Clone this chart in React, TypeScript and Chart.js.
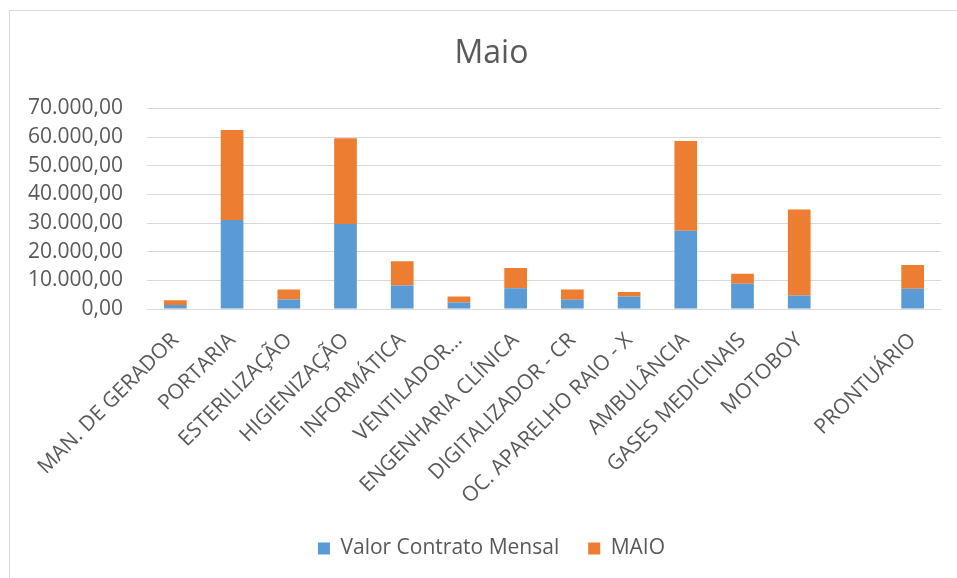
import React, { useEffect, useRef } from "react";
import { Chart, registerables } from "chart.js";

Chart.register(...registerables);

const categories = [
  "MAN. DE GERADOR",
  "PORTARIA",
  "ESTERILIZAÇÃO",
  "HIGIENIZAÇÃO",
  "INFORMÁTICA",
  "VENTILADOR…",
  "ENGENHARIA CLÍNICA",
  "DIGITALIZADOR - CR",
  "OC. APARELHO RAIO - X",
  "AMBULÂNCIA",
  "GASES MEDICINAIS",
  "MOTOBOY",
  "",
  "PRONTUÁRIO",
];

const valorContratoMensal = [1400, 31100, 3300, 29700, 8200, 2250, 7200, 3200, 4400, 27300, 8800, 4700, null, 7050];
const maio = [1650, 31400, 3500, 29900, 8500, 2100, 7100, 3600, 1500, 31300, 3500, 30000, null, 8300];

const yMin = 0;
const yMax = 70000;
const yStep = 10000;

const FONT = "'Open Sans', 'Liberation Sans', sans-serif";
const TEXT = "#595959";
const GRID = "#d9d9d9";

function fmtBR(v: number): string {
  const s = Math.round(v).toString().replace(/\B(?=(\d{3})+(?!\d))/g, ".");
  return s + ",00";
}

const recenter = {
  id: "recenter",
  afterLayout(chart: any) {
    const dx = 21;
    for (const b of [chart.titleBlock, chart.legend]) {
      if (b) {
        b.left += dx;
        b.right += dx;
      }
    }
  },
};

export default function App() {
  const ref = useRef<HTMLCanvasElement | null>(null);

  useEffect(() => {
    document.body.style.margin = "0";
    document.body.style.overflow = "hidden";
    if (!ref.current) return;
    const chart = new Chart(ref.current, {
      type: "bar",
      data: {
        labels: categories,
        datasets: [
          {
            label: "Valor Contrato Mensal",
            data: valorContratoMensal,
            backgroundColor: "#5B9BD5",
            barPercentage: 0.4,
            categoryPercentage: 1,
          },
          {
            label: "MAIO",
            data: maio,
            backgroundColor: "#ED7D31",
            barPercentage: 0.4,
            categoryPercentage: 1,
          },
        ],
      },
      plugins: [recenter],
      options: {
        animation: false,
        responsive: true,
        maintainAspectRatio: false,
        layout: { padding: { left: 0, right: 16, top: 0, bottom: 9 } },
        plugins: {
          title: {
            display: true,
            text: "Maio",
            color: TEXT,
            font: { family: FONT, size: 32, weight: "normal" },
            padding: { top: 35, bottom: 35 },
          },
          legend: {
            position: "bottom",
            labels: {
              color: TEXT,
              font: { family: FONT, size: 21 },
              boxWidth: 12,
              boxHeight: 12,
              padding: 29,
            },
          },
          tooltip: { enabled: false },
        },
        scales: {
          x: {
            stacked: true,
            grid: { display: false },
            border: { display: false },
            ticks: {
              color: TEXT,
              font: { family: FONT, size: 21 },
              minRotation: 45,
              maxRotation: 45,
              autoSkip: false,
              padding: 11,
            },
            afterFit: (scale: any) => {
              scale.height = 200;
            },
          },
          y: {
            stacked: true,
            min: yMin,
            max: yMax,
            grid: { color: GRID, lineWidth: 1, drawTicks: false },
            border: { display: false },
            ticks: {
              stepSize: yStep,
              autoSkip: false,
              color: TEXT,
              font: { family: FONT, size: 21 },
              padding: 24,
              callback: (v: any) => fmtBR(Number(v)),
            },
            afterFit: (scale: any) => {
              scale.width = 147;
            },
          },
        },
      },
    });
    return () => chart.destroy();
  }, []);

  return (
    <>
      <div
        style={{
          position: "fixed",
          left: 9,
          top: 10,
          width: 1200,
          height: 1200,
          border: "1px solid #d9d9d9",
          boxSizing: "border-box",
        }}
      />
      <div style={{ position: "fixed", left: 0, top: 0, width: 957, height: 578 }}>
        <canvas ref={ref} />
      </div>
    </>
  );
}
